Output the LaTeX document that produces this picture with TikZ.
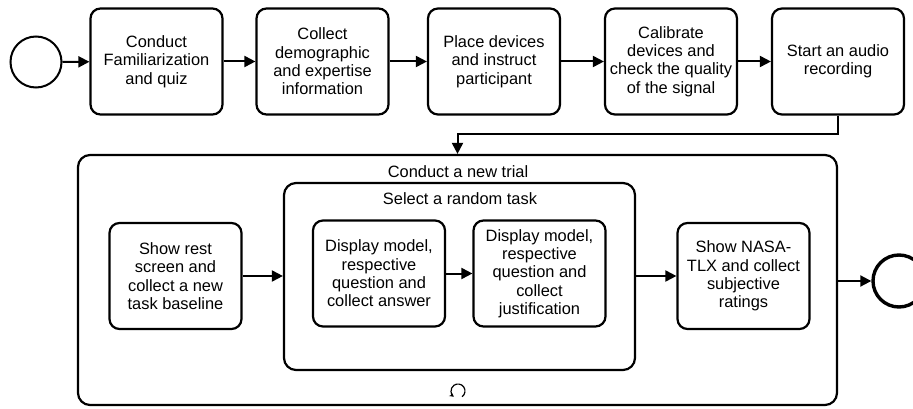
\documentclass[tikz,border=0pt]{standalone}
\usepackage{fontspec}
\setmainfont{Liberation Sans}
\usetikzlibrary{arrows.meta,calc}
\begin{document}
\begin{tikzpicture}[x=1pt,y=-1pt,
  every node/.style={font=\fontsize{16.4}{18.3}\selectfont, align=center, inner sep=0pt},
  task/.style={draw, line width=2.2pt, rounded corners=10pt, minimum width=132pt, minimum height=106pt},
  sub/.style={draw, line width=2.2pt, rounded corners=12pt},
  ev/.style={draw, circle, line width=2pt, minimum size=51pt},
  endev/.style={draw, circle, line width=3.4pt, minimum size=52pt},
  flow/.style={line width=2pt, -{Triangle[length=11pt,width=11pt]}},
  lbl/.style={}
]
\useasboundingbox (0,0) rectangle (913,409);
% top row
\node[ev] (start) at (36,62) {};
\node[task] (b1) at (156.5,61.5) {Conduct\\Familiarization\\and quiz};
\node[task] (b2) at (322.5,61.5) {Collect\\demographic\\and expertise\\information};
\node[task] (b3) at (494,61.5) {Place devices\\and instruct\\participant};
\node[task] (b4) at (671,61.5) {Calibrate\\devices and\\check the quality\\of the signal};
\node[task] (b5) at (838,61.5) {Start an audio\\recording};
\draw[flow] (start) -- (b1);
\draw[flow] (b1) -- (b2);
\draw[flow] (b2) -- (b3);
\draw[flow] (b3) -- (b4);
\draw[flow] (b4) -- (b5);
% outer subprocess
\node[sub, minimum width=759pt, minimum height=250pt] (outer) at (457.5,280) {};
\node[lbl] (outerlbl) at (458,172) {Conduct a new trial};
\node[sub, minimum width=351pt, minimum height=187pt] (inner) at (459.5,276.5) {};
\node[lbl] (innerlbl) at (460,199) {Select a random task};
\node[task] (rest) at (175.5,276) {Show rest\\screen and\\collect a new\\task baseline};
\node[task] (d1) at (379,273.5) {Display model,\\respective\\question and\\collect answer};
\node[task] (d2) at (539.5,273.5) {Display model,\\respective\\question and\\collect\\justification};
\node[task] (nasa) at (743.5,276) {Show NASA-\\TLX and collect\\subjective\\ratings};
\node[endev] (end) at (899,281) {};
\draw[flow] (b5.south) |- ($(outer.north)+(0,-20)$) -- (outer.north);
\draw[flow] (rest.east |- 0,276) -- (inner.west |- 0,276);
\draw[flow] (d1) -- (d2);
\draw[flow] (inner.east |- 0,276) -- (nasa.west |- 0,276);
\draw[flow] (outer.east |- end) -- (end);
% loop marker
\coordinate (loopc) at (458,391);
\draw[line width=1.2pt, -{Stealth[length=4.5pt,width=4.5pt]}] ($(loopc)+(55:7)$) arc[start angle=55, end angle=-235, radius=7];
\end{tikzpicture}
\end{document}
